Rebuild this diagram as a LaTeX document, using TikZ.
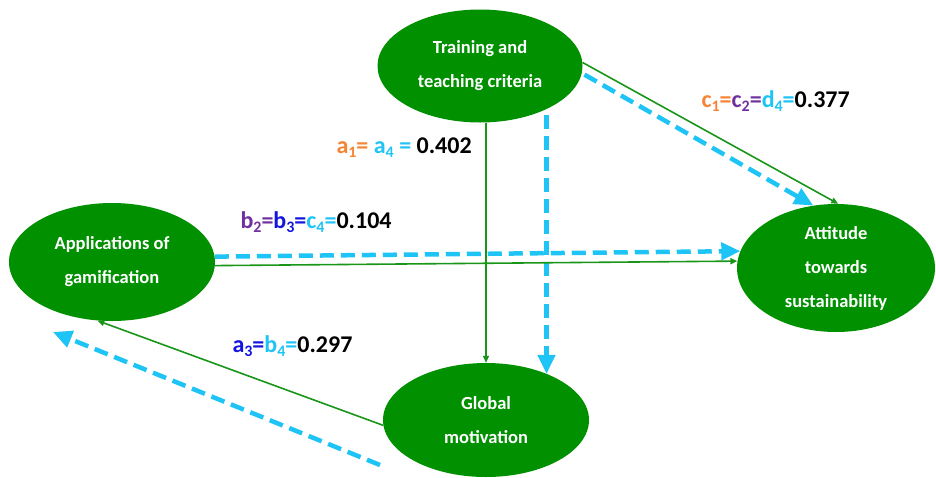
\documentclass[tikz,border=0pt]{standalone}
\usepackage{fontspec}
\setmainfont{Carlito}
\usepackage{tikz}
\usetikzlibrary{arrows.meta,shapes.geometric,calc}
\definecolor{ovalgreen}{RGB}{0,144,0}
\definecolor{linegreen}{RGB}{25,150,25}
\definecolor{pathcyan}{RGB}{30,196,245}
\definecolor{pathorange}{RGB}{245,132,52}
\definecolor{pathpurple}{RGB}{112,48,160}
\definecolor{pathblue}{RGB}{20,20,225}
\newcommand{\lsub}[1]{\raisebox{-0.35ex}{\fontsize{16}{16}\selectfont #1}}

\begin{document}
\begin{tikzpicture}[x=1pt,y=-1pt,
  construct/.style={ellipse,fill=ovalgreen,inner sep=0pt,text=white,align=center,
    font=\fontsize{18.5}{34}\selectfont\bfseries},
  direct/.style={draw=linegreen,line width=1.6pt,-{Triangle[length=7pt,width=6pt]}},
  indirect/.style={draw=pathcyan,line width=4.5pt,dash pattern=on 14pt off 7pt,
    -{Triangle[length=19pt,width=17pt]}},
  coef/.style={anchor=base west,font=\fontsize{24}{28}\selectfont\bfseries}]
\useasboundingbox (0,0) rectangle (936,477);
% constructs
\node[construct,minimum width=205pt,minimum height=113pt] (train) at (480,66) {Training and\\teaching criteria};
\node[construct,minimum width=206pt,minimum height=118pt] (apps) at (112,262) {Applications of\\gamification};
\node[construct,minimum width=198pt,minimum height=128pt] (att) at (836,268) {Attitude\\towards\\sustainability};
\node[construct,minimum width=206pt,minimum height=114pt] (glob) at (486,420) {Global\\motivation};
% direct and indirect paths
\draw[direct] (train.2) -- (att.88);
\draw[indirect,shorten <=3pt] (train.-4) -- (att.110);
\draw[direct] (glob.north |- train.south) -- (glob.north);
\draw[indirect,shorten <=6pt] (train.-33) -- (train.-33 |- glob.37);
\draw[indirect] (apps.3) -- (att.170);
\draw[direct] (apps.-2) -- (att.176);
\draw[direct] (glob.183) -- (apps.256);
\coordinate (tailM) at (380,465);
\coordinate (headM) at (53,332);
\draw[indirect] (tailM) -- (headM);
% coefficients
\node[coef] (labA) at (333,153) {{\color{pathorange}a\lsub{1}=} {\color{pathcyan}a\lsub{4} =} 0.402};
\node[coef] (labC) at (698,107) {{\color{pathorange}c\lsub{1}=}{\color{pathpurple}c\lsub{2}=}{\color{pathcyan}d\lsub{4}=}0.377};
\node[coef] (labB) at (237,228) {{\color{pathpurple}b\lsub{2}=}{\color{pathblue}b\lsub{3}=}{\color{pathcyan}c\lsub{4}=}0.104};
\node[coef] (labD) at (229,352) {{\color{pathblue}a\lsub{3}=}{\color{pathcyan}b\lsub{4}=}0.297};
\end{tikzpicture}
\end{document}
